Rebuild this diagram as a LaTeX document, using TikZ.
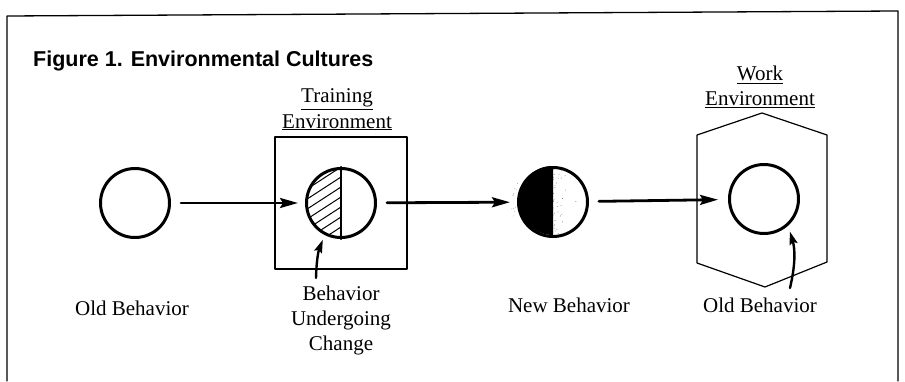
\documentclass[tikz,border=0pt]{standalone}
\usepackage{fontspec}
\setmainfont{Liberation Serif}
\newfontfamily\headfont{Liberation Sans}
\usetikzlibrary{arrows.meta}

\begin{document}
\begin{tikzpicture}[x=1pt,y=1pt,line cap=round,line join=round,
    >={Stealth[length=18pt,width=10pt,inset=3pt]},
    every node/.style={inner sep=0pt},
    beh/.style={circle,draw,line width=3pt,minimum size=69pt},
    flow/.style={->,line width=2.8pt,shorten <=10pt,shorten >=7pt},
    pointer/.style={-{Stealth[length=13pt,width=8pt,inset=2pt]},line width=2.4pt},
    envline/.style={line width=1.2pt},
    lbl/.style={font=\fontsize{21}{25}\selectfont,anchor=base}]
  \useasboundingbox (0,0) rectangle (905,381);
  % frame (open at the bottom)
  \draw[line width=1.3pt] (7,0) -- (7,365) -- (898,370) -- (898,0);
  \node[anchor=base west,font=\headfont\bfseries\fontsize{21.5}{25}\selectfont] (title) at (33,314) {Figure 1. Environmental Cultures};
  % environments
  \draw[envline] (275,112) rectangle (407,244);
  \draw[envline] (762,268) -- (827,246) -- (827,119) -- (765,94) -- (697,118) -- (697,246) -- cycle;
  \node[lbl] (trainlbl) at (337,278) {\underline{Training}};
  \node[lbl] (trainenv) at (337,253) {\underline{Environment}};
  \node[lbl] (worklbl) at (760,300) {\underline{Work}};
  \node[lbl] (workenv) at (760,275) {\underline{Environment}};
  % behaviors
  \node[beh] (old) at (135,178) {};
  \node[beh] (train) at (341,178) {};
  \node[beh] (new) at (553,179) {};
  \node[beh] (work) at (764,182) {};
  % hatched half
  \begin{scope}
    \clip (train.north) arc[start angle=90,end angle=270,radius=34.5] -- cycle;
    \foreach \k in {-70,-60,...,40}
      \draw[line width=1pt] ([shift={(-40,\k)}]train.center) -- ++(33:75);
  \end{scope}
  \draw[line width=2.2pt] (train.north) -- (train.south);
  % black half and stipple
  \fill (new.north) arc[start angle=90,end angle=270,radius=34.5] -- cycle;
  \begin{scope}
    \clip (new.north) arc[start angle=90,end angle=-90,radius=34.5] -- cycle;
    \pgfmathsetseed{3}
    \foreach \i in {1,...,40}{
      \pgfmathsetmacro\dx{26*rnd*rnd*rnd}
      \pgfmathsetmacro\dy{34*rand}
      \fill[black!55] ([shift={(\dx,\dy)}]new.center) circle[radius=0.45];
    }
  \end{scope}
  \pgfmathsetseed{11}
  \foreach \i in {1,...,12}{
    \pgfmathsetmacro\ang{150+60*rnd}
    \pgfmathsetmacro\rr{37+5*rnd}
    \fill[black!45] ([shift={(\ang:\rr)}]new.center) circle[radius=0.4];
  }
  % flow
  \draw[flow] (old) -- (train);
  \draw[flow] (train) -- (new);
  \draw[flow,shorten >=10pt] (new) -- (work);
  % bottom labels
  \node[lbl] (oldlbl) at (132,66) {Old Behavior};
  \node[lbl,anchor=north,align=center] (chglbl) at (341,95) {Behavior\\Undergoing\\Change};
  \node[lbl] (newlbl) at (569,69) {New Behavior};
  \node[lbl] (stilllbl) at (760,69) {Old Behavior};
  \coordinate (chgtail) at (316,103);
  \coordinate (stilltail) at (790,93);
  \draw[pointer,shorten >=5pt] (chgtail) to[bend left=10] (train.243);
  \draw[pointer,shorten >=6pt] (stilltail) to[bend right=15] (work.312);
\end{tikzpicture}
\end{document}
